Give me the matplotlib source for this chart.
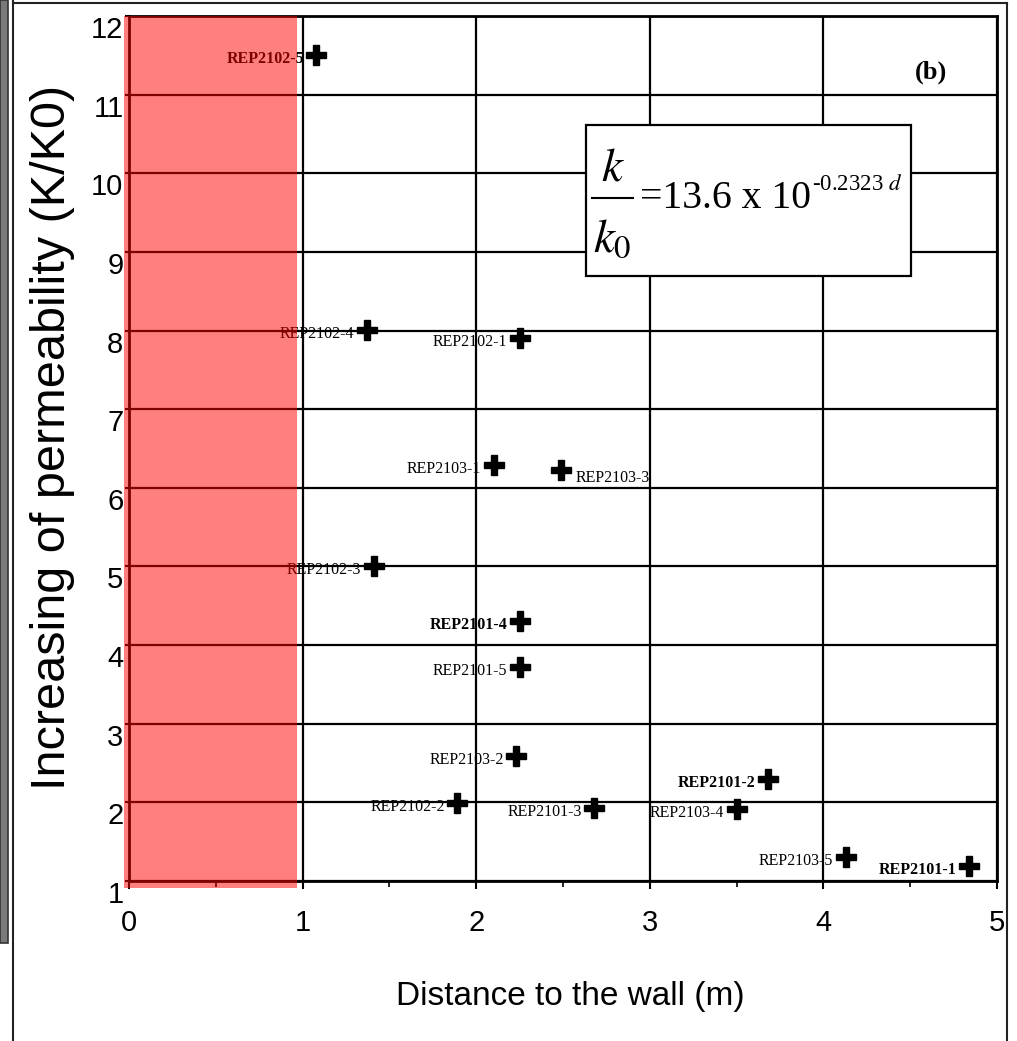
import matplotlib
matplotlib.use("Agg")
import matplotlib.pyplot as plt
from matplotlib.patches import Rectangle
from matplotlib.lines import Line2D

plt.rcParams['mathtext.fontset'] = 'stix'

# ---- data ----
names = ["REP2102-5", "REP2102-4", "REP2102-1", "REP2103-1", "REP2103-3",
         "REP2102-3", "REP2101-4", "REP2101-5", "REP2103-2", "REP2102-2",
         "REP2101-3", "REP2101-2", "REP2103-4", "REP2103-5", "REP2101-1"]
distance = [1.08, 1.37, 2.25, 2.10, 2.49, 1.41, 2.25, 2.25, 2.23, 1.89,
            2.68, 3.68, 3.50, 4.13, 4.84]
k_ratio = [11.51, 8.01, 7.91, 6.29, 6.23, 5.01, 4.31, 3.72, 2.59, 1.99,
           1.93, 2.30, 1.92, 1.31, 1.19]
label_side = ["L", "L", "L", "L", "R", "L", "L", "L", "L", "L",
              "L", "L", "L", "L", "L"]
label_bold = [True, False, False, False, False, False, True, False, False, False,
              False, True, False, False, True]
x_ticks = [0, 1, 2, 3, 4, 5]
y_ticks = [1, 2, 3, 4, 5, 6, 7, 8, 9, 10, 11, 12]
eq_num = r'$k$'
eq_den = r'$k_0$'
eq_main = "=13.6 x 10"
eq_exp = r"-0.2323 $d$"

W, H = 1017, 1041
fig = plt.figure(figsize=(W / 100, H / 100), dpi=100)
ax = fig.add_axes([129 / W, 1 - 881 / H, 868 / W, 865 / H])

ax.set_xlim(0, 5)
ax.set_ylim(1, 12)
ax.set_xticks(x_ticks)
ax.set_yticks(y_ticks)
ax.set_xticks([0.5, 1.5, 2.5, 3.5, 4.5], minor=True)
ax.grid(True, which='major', color='black', lw=1.6, zorder=1)
ax.set_axisbelow(True)
for s in ax.spines.values():
    s.set_linewidth(2.0)
    s.set_color('black')

tick_font = dict(family=['Liberation Sans', 'DejaVu Sans'], size=21)
ax.set_xticklabels([str(t) for t in x_ticks], fontdict=tick_font)
ax.set_yticklabels([str(t) for t in y_ticks], fontdict=tick_font)
ax.tick_params(axis='x', which='major', direction='out', length=6, width=1.5, pad=14)
ax.tick_params(axis='x', which='minor', direction='out', length=4, width=1.2)
ax.tick_params(axis='y', which='major', direction='out', length=3, width=1.5, pad=1)
for lbl in ax.get_yticklabels():
    lbl.set_verticalalignment('top')

ax.set_xlabel("Distance to the wall (m)", family=['Liberation Sans', 'DejaVu Sans'],
              size=24, va='top')
ax.xaxis.set_label_coords(0.508, -0.116)
ax.set_ylabel("Increasing of permeability (K/K0)",
              family=['Liberation Sans', 'DejaVu Sans'], size=35, va='center')
ax.yaxis.set_label_coords(-0.088, 0.513)

# points
ax.plot(distance, k_ratio, linestyle='none', marker='P', ms=14,
        color='black', mec='black', zorder=5)

for n, xv, yv, side, b in zip(names, distance, k_ratio, label_side, label_bold):
    if side == "L":
        off, ha = (-9, -3), 'right'
    else:
        off, ha = (10, -6), 'left'
    ax.annotate(n, (xv, yv), xytext=off, textcoords='offset points',
                ha=ha, va='center', fontsize=11.5,
                family=['Liberation Serif', 'DejaVu Serif'],
                fontweight='bold' if b else 'normal', color='black', zorder=6)

# equation box
ax.add_patch(Rectangle((2.632, 8.70), 1.874, 1.91, facecolor='white',
                       edgecolor='black', lw=1.6, zorder=3))
ax.text(2.788, 9.914, eq_num, fontsize=34, ha='center', va='baseline', zorder=4)
ax.plot([2.667, 2.903], [9.685, 9.685], color='black', lw=1.5, zorder=4)
ax.text(2.782, 9.0, eq_den, fontsize=34, ha='center', va='baseline', zorder=4)
main_txt = ax.text(2.944, 9.558, eq_main, fontsize=28.5, ha='left', va='baseline',
                   family=['Liberation Serif', 'DejaVu Serif'], zorder=4)
ax.annotate(eq_exp, xy=(1.0, 1.0), xycoords=main_txt, xytext=(0.5, 4),
            textcoords='offset points', ha='left', va='top', fontsize=16.5,
            family=['Liberation Serif', 'DejaVu Serif'], zorder=4)

ax.text(4.62, 11.29, "(b)", fontsize=19, fontweight='bold',
        family=['Liberation Serif', 'DejaVu Serif'], ha='center', va='center', zorder=4)

# red zone near the wall
ax.add_patch(Rectangle((-0.03, 0.91), 1.0, 11.09, facecolor='#ff0000',
                       alpha=0.5, edgecolor='none', zorder=10, clip_on=False))

# outer frame decorations
fig.add_artist(Rectangle((0, 1 - 943 / H), 8 / W, 943 / H, transform=fig.transFigure,
                         facecolor='#7a7a7a', edgecolor='#333333', lw=1.2))
fig.add_artist(Line2D([13 / W, 13 / W], [0, 1], transform=fig.transFigure,
                      color='#222222', lw=1.5))
fig.add_artist(Line2D([13 / W, 1007 / W], [1 - 3 / H, 1 - 3 / H], transform=fig.transFigure,
                      color='#222222', lw=1.5))
fig.add_artist(Line2D([1007 / W, 1007 / W], [0, 1 - 3 / H], transform=fig.transFigure,
                      color='#222222', lw=1.5))

fig.savefig("out.png", dpi=100)
